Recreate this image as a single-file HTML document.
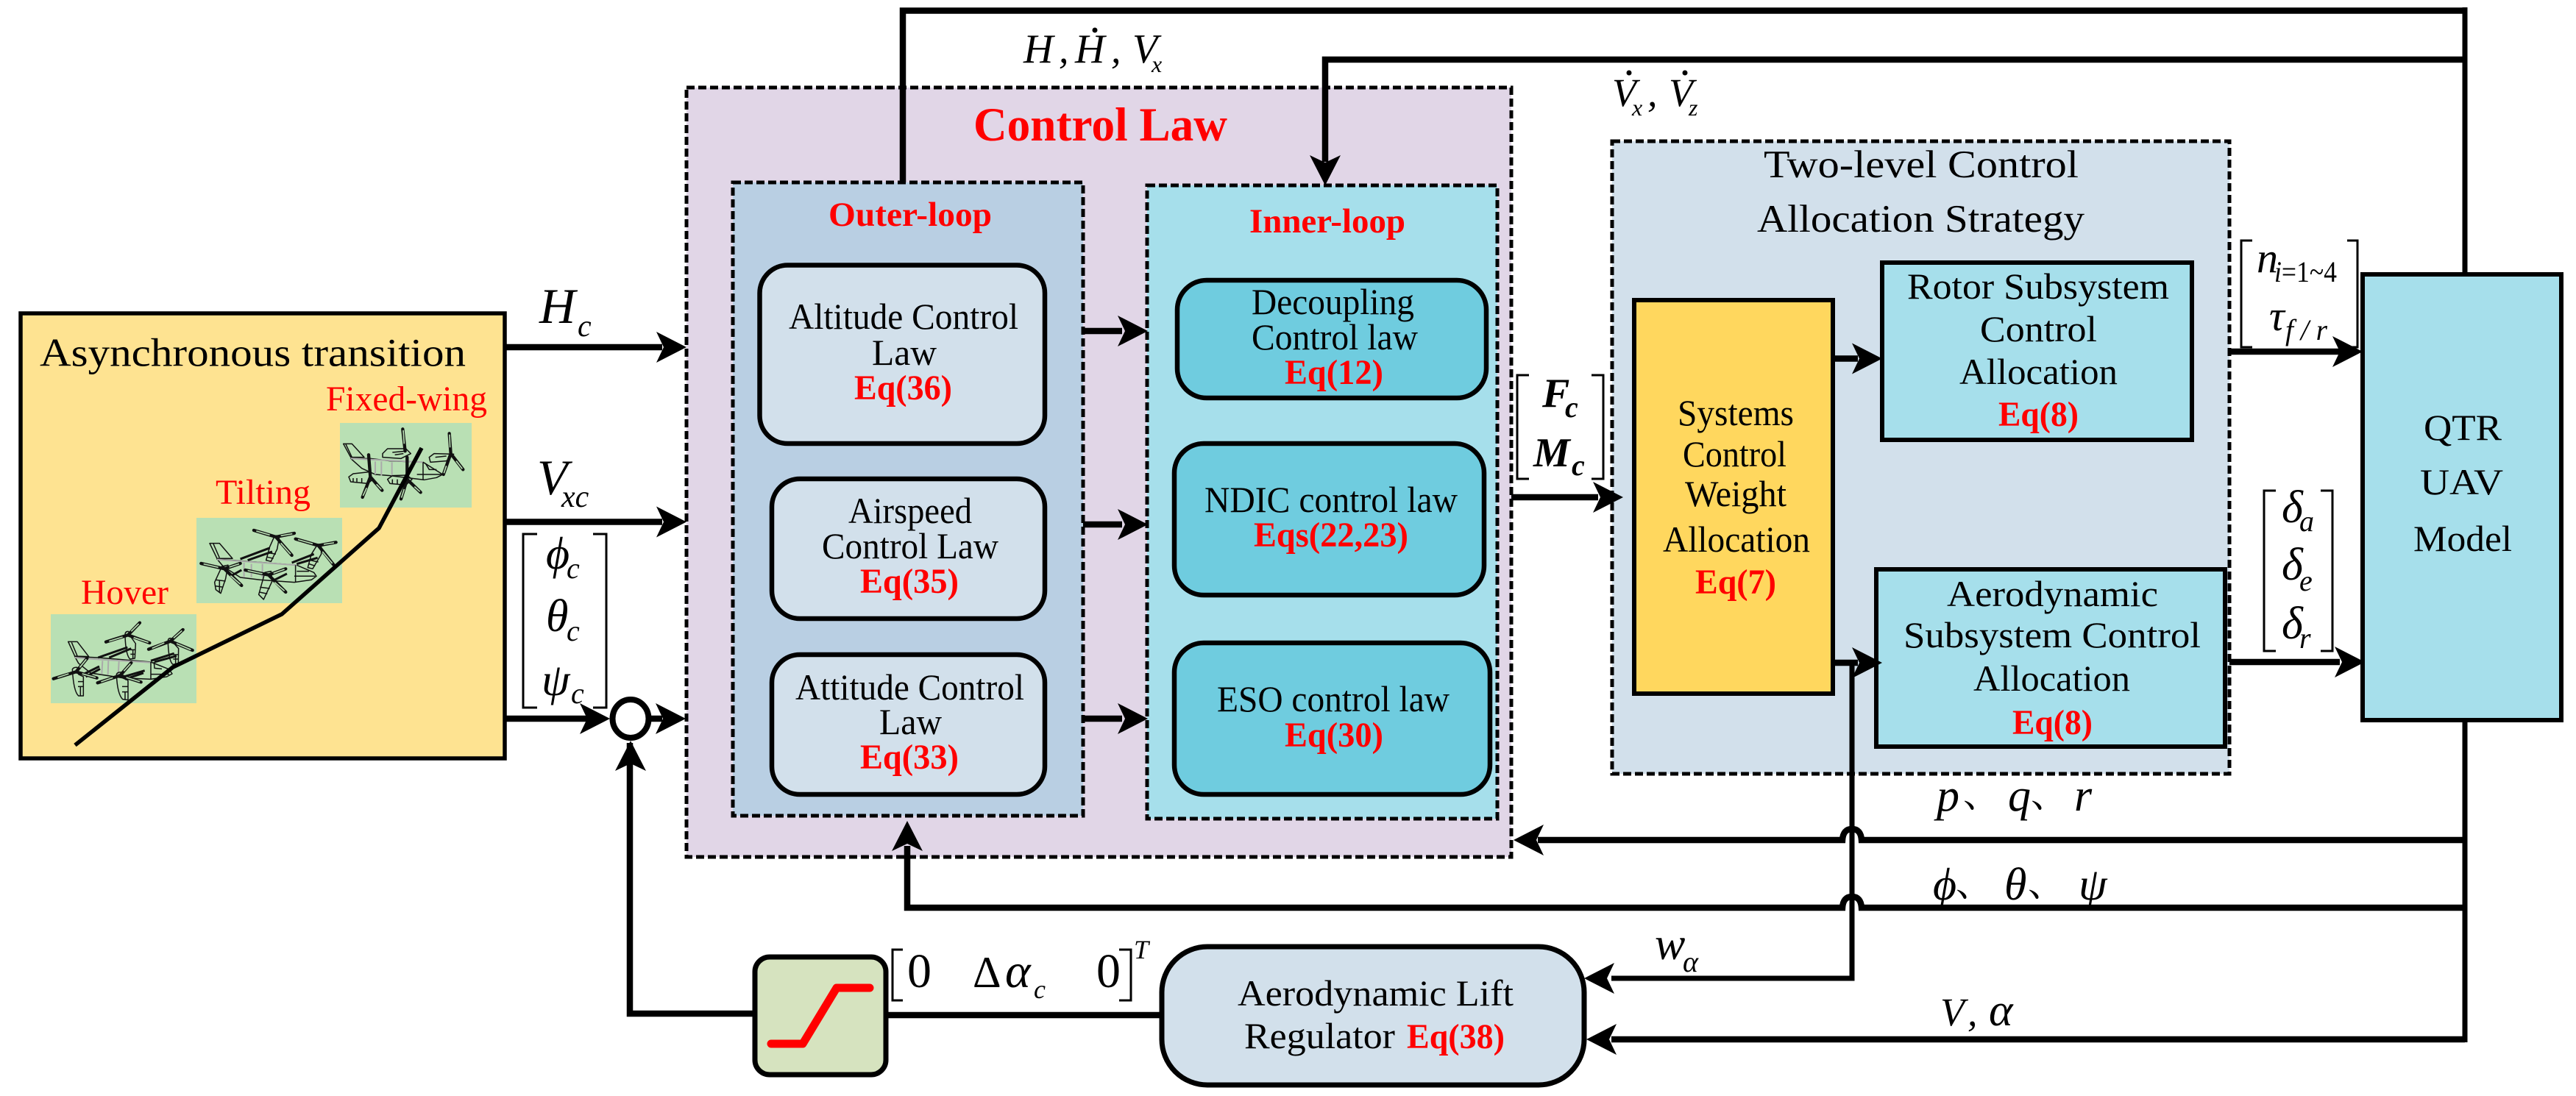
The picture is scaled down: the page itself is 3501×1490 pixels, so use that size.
<!DOCTYPE html>
<html><head><meta charset="utf-8"><title>Control diagram</title>
<style>
html,body{margin:0;padding:0;background:#fff;width:3501px;height:1490px;overflow:hidden}
svg{display:block}
text{font-family:"Liberation Serif","Noto Serif CJK SC",serif;fill:#000}
.r{fill:#f00;font-weight:bold}
.rn{fill:#f00}
.i{font-style:italic}
.b{font-size:50px}
.r.b{font-size:48px}
.m{font-style:italic;font-size:62px}
.s{font-style:italic;font-size:40px}
.d{fill:none;stroke:#000;stroke-width:5;stroke-dasharray:11 5}
.ln{stroke:#000;fill:none;stroke-width:8.5}
.br{stroke:#000;fill:none;stroke-width:3}
.air path{fill:none;stroke:#111;stroke-width:4.5;stroke-linejoin:round}
.air .g{stroke:#aaa;stroke-width:6}
.air .w{stroke-width:9}
.air .bl{stroke-width:13;stroke-linecap:round}
.air .bi{stroke:#b9e0b4;stroke-width:5;stroke-linecap:butt}
</style></head><body>
<svg width="3501" height="1490" viewBox="0 0 3501 1490" xmlns="http://www.w3.org/2000/svg">
<defs><polygon id="a" points="0,0 -41,-21 -31,0 -41,21" fill="#000"/></defs>

<!-- Asynchronous box -->
<rect x="28" y="426" width="658" height="605" fill="#fee391" stroke="#000" stroke-width="5.5"/>
<text x="54" y="497.5" font-size="54" textLength="579" lengthAdjust="spacingAndGlyphs">Asynchronous transition</text>
<text class="rn" x="443" y="558" font-size="48" textLength="219" lengthAdjust="spacingAndGlyphs">Fixed-wing</text>
<text class="rn" x="293" y="685" font-size="48" textLength="129" lengthAdjust="spacingAndGlyphs">Tilting</text>
<text class="rn" x="110" y="821" font-size="48" textLength="119" lengthAdjust="spacingAndGlyphs">Hover</text>
<rect x="69" y="835" width="198" height="121" fill="#b9e0b4"/>
<rect x="267" y="704" width="198" height="116" fill="#b9e0b4"/>
<rect x="462" y="575" width="179" height="115" fill="#b9e0b4"/>

<!-- hover -->
<g class="air" transform="translate(50,820) scale(.3333)">
 <path d="M128,157L165,157L212,218L155,216ZM142,160L165,215"/>
 <path d="M155,218L250,222L465,240L540,270L552,288L530,300L465,310L350,305L220,285L170,245Z"/>
 <path class="g" d="M155,222L260,230L465,242M268,235L265,290M292,235L290,292M335,238L332,292"/>
 <path d="M465,240V310M478,240L480,265L510,268M465,290H540"/>
 <path class="w" d="M250,222L370,180M295,222L385,185M465,235L560,205M480,240L570,215M190,290L255,258M200,300L258,268M355,300L440,275M360,310L435,285"/>
 <path d="M360,130Q360,115 372,115Q382,120 382,135L403,165L400,225L380,228Q362,210 360,130ZM382,190H403M382,208H403M392,190V225"/>
 <path d="M535,155Q535,143 545,143Q555,145 556,160L578,185L577,245L555,250Q537,235 535,155ZM556,210H578M556,228H578M566,210V248"/>
 <path d="M145,270Q150,260 165,262L170,290L190,300L190,378L170,378Q150,360 145,270ZM168,320H190M168,340H190M178,340V378"/>
 <path d="M325,290Q330,280 345,282L350,305L372,315L372,395L350,392Q328,370 325,290ZM348,340H372M348,362H372M360,362V394"/>
 <path class="bl" d="M372,130L420,80M372,130L282,158M372,130L460,162M545,155L596,108M545,155L456,188M545,155L635,192M160,280L205,225M160,280L68,308M160,280L245,305M340,295L385,243M340,295L248,325M340,295L425,322"/>
 <path class="bi" d="M385,115L416,84M350,138L295,155M395,140L455,160M558,142L592,112M520,162L470,184M570,165L628,190M175,262L202,229M130,288L85,303M185,288L240,303M355,277L382,247M310,304L262,321M365,303L420,320"/>
</g>
<!-- tilting -->
<g class="air" transform="translate(20,400) scale(.3333)">
 <path d="M795,1016L835,1016L888,1078L825,1078ZM810,1018L835,1075"/>
 <path d="M825,1080L1150,1105L1220,1135L1230,1150L1210,1165L1140,1175L1000,1165L920,1155L850,1110Z"/>
 <path class="g" d="M825,1082L1150,1105M935,1095V1155M965,1100V1155M1010,1100V1155"/>
 <path d="M1145,1105V1175M1150,1130H1200M1140,1150H1225"/>
 <path class="w" d="M920,1080L1040,1035M950,1085L1050,1050M1130,1095L1220,1060M1150,1100L1235,1075M880,1150L925,1125M1060,1165L1110,1140"/>
 <path d="M1060,985L1080,985L1070,1040L1045,1090L1025,1085L1040,1030ZM1035,1055L1065,1060M1030,1072L1055,1078"/>
 <path d="M1235,1020L1250,1020L1250,1060L1215,1120L1195,1115L1210,1060ZM1205,1085L1238,1092M1200,1100L1225,1108"/>
 <path d="M845,1110L870,1105L860,1160L840,1220L820,1205L815,1175ZM818,1165L860,1170M818,1190L850,1195M835,1165V1215"/>
 <path d="M1020,1135L1045,1130L1050,1170L1015,1245L995,1225ZM1000,1195L1040,1200M998,1215L1030,1222"/>
 <path class="bl" d="M1065,990L975,963M1065,990L1140,975M1065,990L1130,1065M1238,1025L1145,998M1238,1025L1310,1012M1238,1025L1300,1103M855,1120L760,1098M855,1120L920,1098M855,1120L925,1188M1035,1145L940,1125M1035,1145L1105,1120M1035,1145L1105,1215"/>
 <path class="bi" d="M1040,982L985,966M1085,985L1132,977M1085,1015L1125,1060M1215,1018L1155,1001M1260,1020L1302,1014M1255,1050L1295,1098M830,1114L770,1100M875,1113L915,1100M880,1148L920,1183M1010,1140L950,1127M1055,1138L1100,1122M1060,1175L1100,1210"/>
</g>
<!-- fixed-wing -->
<g class="air" transform="translate(420,520) scale(.3333)">
 <path d="M140,250L175,250L225,305L170,305ZM150,252L175,305"/>
 <path d="M170,310L250,310L330,320L465,325L545,375L520,388L470,397L330,380L270,375L215,350Z"/>
 <path class="g" d="M170,310L465,325M270,322V375M295,322V380M338,325V380"/>
 <path d="M465,325V395M475,330L490,355L520,355M440,375H545"/>
 <path d="M300,290L320,270L395,270L415,290L375,310L300,305ZM340,285L390,280M350,295L385,290"/>
 <path d="M490,305L510,290L590,292L560,320L495,325ZM515,305L560,300"/>
 <path d="M162,385L180,372L245,365L260,395L240,412L170,405ZM180,390V405M195,390V408M215,390V410"/>
 <path d="M320,395L340,380L400,378L420,395L395,418L330,412ZM340,395V412M360,395V414"/>
 <path class="bl" d="M392,280L382,190M578,290L572,208M578,290L628,355M578,290L548,375M250,385L243,295M250,385L218,468M250,385L298,440M400,395L400,305M400,395L375,475M400,395L455,448"/>
 <path class="bi" d="M388,250L384,195M575,265L573,212M600,320L625,352M560,340L550,370M235,430L220,462M275,415L295,436M388,435L377,470M430,425L452,445"/>
</g>
<polyline points="102,1013 235,907 383,835 515,718 573,609" fill="none" stroke="#000" stroke-width="5.5"/>

<!-- Control law -->
<rect x="933" y="119" width="1121" height="1046" fill="#e1d6e7"/>
<rect class="d" x="933" y="119" width="1121" height="1046"/>
<rect x="996" y="248" width="476" height="861" fill="#b9cfe3"/>
<rect class="d" x="996" y="248" width="476" height="861"/>
<rect x="1559" y="252" width="476" height="861" fill="#a6dfeb"/>
<rect class="d" x="1559" y="252" width="476" height="861"/>

<text class="r" x="1323" y="191" font-size="65" textLength="345" lengthAdjust="spacingAndGlyphs">Control Law</text>
<text class="r" x="1126" y="307" font-size="47" textLength="222" lengthAdjust="spacingAndGlyphs">Outer-loop</text>
<text class="r" x="1698" y="316" font-size="47" textLength="212" lengthAdjust="spacingAndGlyphs">Inner-loop</text>

<g fill="#d2e0eb" stroke="#000" stroke-width="6.5">
<rect x="1032.5" y="360.5" width="387.5" height="242.5" rx="38"/>
<rect x="1049" y="651" width="371" height="190" rx="38"/>
<rect x="1049" y="890" width="371" height="190" rx="38"/>
</g>
<g fill="#6fccdf" stroke="#000" stroke-width="6.5">
<rect x="1600" y="381" width="420" height="160" rx="40"/>
<rect x="1596" y="603" width="421" height="206" rx="40"/>
<rect x="1596" y="874" width="429" height="206" rx="40"/>
</g>

<text class="b" x="1072" y="447" textLength="312" lengthAdjust="spacingAndGlyphs">Altitude Control</text>
<text class="b" x="1185" y="496" textLength="88" lengthAdjust="spacingAndGlyphs">Law</text>
<text class="r b" x="1161" y="543" textLength="133" lengthAdjust="spacingAndGlyphs">Eq(36)</text>
<text class="b" x="1153" y="711" textLength="168" lengthAdjust="spacingAndGlyphs">Airspeed</text>
<text class="b" x="1117" y="759" textLength="240" lengthAdjust="spacingAndGlyphs">Control Law</text>
<text class="r b" x="1169" y="806" textLength="134" lengthAdjust="spacingAndGlyphs">Eq(35)</text>
<text class="b" x="1081" y="951" textLength="311" lengthAdjust="spacingAndGlyphs">Attitude Control</text>
<text class="b" x="1195" y="998" textLength="85" lengthAdjust="spacingAndGlyphs">Law</text>
<text class="r b" x="1169" y="1045" textLength="134" lengthAdjust="spacingAndGlyphs">Eq(33)</text>

<text class="b" x="1701" y="427" textLength="221" lengthAdjust="spacingAndGlyphs">Decoupling</text>
<text class="b" x="1701" y="475" textLength="226" lengthAdjust="spacingAndGlyphs">Control law</text>
<text class="r b" x="1746" y="522" textLength="134" lengthAdjust="spacingAndGlyphs">Eq(12)</text>
<text class="b" x="1637" y="696" textLength="344" lengthAdjust="spacingAndGlyphs">NDIC control law</text>
<text class="r b" x="1704" y="743" textLength="210" lengthAdjust="spacingAndGlyphs">Eqs(22,23)</text>
<text class="b" x="1654" y="967" textLength="316" lengthAdjust="spacingAndGlyphs">ESO control law</text>
<text class="r b" x="1746" y="1015" textLength="134" lengthAdjust="spacingAndGlyphs">Eq(30)</text>

<!-- Two-level -->
<rect x="2191" y="192" width="839" height="860" fill="#d2e0eb"/>
<rect class="d" x="2191" y="192" width="839" height="860"/>
<text x="2397" y="241" font-size="53" textLength="428" lengthAdjust="spacingAndGlyphs">Two-level Control</text>
<text x="2388" y="315" font-size="53" textLength="445" lengthAdjust="spacingAndGlyphs">Allocation Strategy</text>
<rect x="2558" y="357" width="421" height="241" fill="#a6dfeb" stroke="#000" stroke-width="6"/>
<rect x="2221" y="408" width="270" height="535" fill="#ffd75e" stroke="#000" stroke-width="6"/>
<rect x="2550" y="774" width="474" height="241" fill="#a6dfeb" stroke="#000" stroke-width="6"/>
<rect x="3211" y="373" width="270" height="606" fill="#a6dfeb" stroke="#000" stroke-width="6"/>

<text class="b" x="2592" y="406" textLength="356" lengthAdjust="spacingAndGlyphs">Rotor Subsystem</text>
<text class="b" x="2691" y="464" textLength="159" lengthAdjust="spacingAndGlyphs">Control</text>
<text class="b" x="2663" y="522" textLength="215" lengthAdjust="spacingAndGlyphs">Allocation</text>
<text class="r b" x="2716" y="579" textLength="109" lengthAdjust="spacingAndGlyphs">Eq(8)</text>
<text class="b" x="2280" y="578" textLength="158" lengthAdjust="spacingAndGlyphs">Systems</text>
<text class="b" x="2287" y="634" textLength="141" lengthAdjust="spacingAndGlyphs">Control</text>
<text class="b" x="2290" y="688" textLength="138" lengthAdjust="spacingAndGlyphs">Weight</text>
<text class="b" x="2260" y="750" textLength="200" lengthAdjust="spacingAndGlyphs">Allocation</text>
<text class="r b" x="2304" y="807" textLength="110" lengthAdjust="spacingAndGlyphs">Eq(7)</text>
<text class="b" x="2646" y="824" textLength="287" lengthAdjust="spacingAndGlyphs">Aerodynamic</text>
<text class="b" x="2587" y="880" textLength="404" lengthAdjust="spacingAndGlyphs">Subsystem Control</text>
<text class="b" x="2682" y="939" textLength="213" lengthAdjust="spacingAndGlyphs">Allocation</text>
<text class="r b" x="2735" y="998" textLength="109" lengthAdjust="spacingAndGlyphs">Eq(8)</text>
<text class="b" x="3294" y="598" textLength="106" lengthAdjust="spacingAndGlyphs">QTR</text>
<text class="b" x="3289" y="672" textLength="113" lengthAdjust="spacingAndGlyphs">UAV</text>
<text class="b" x="3280" y="749" textLength="134" lengthAdjust="spacingAndGlyphs">Model</text>

<!-- Regulator & saturation -->
<rect x="1579" y="1287" width="574" height="188" rx="62" fill="#d2e0eb" stroke="#000" stroke-width="7"/>
<text class="b" x="1682" y="1367" textLength="375" lengthAdjust="spacingAndGlyphs">Aerodynamic Lift</text>
<text class="b" x="1691" y="1425" textLength="205" lengthAdjust="spacingAndGlyphs">Regulator</text>
<text class="r b" x="1912" y="1425" textLength="133" lengthAdjust="spacingAndGlyphs">Eq(38)</text>
<rect x="1026" y="1301" width="178" height="160" rx="20" fill="#d6e3bf" stroke="#000" stroke-width="7"/>
<polyline points="1048,1419 1091,1419 1137,1343 1182,1343" fill="none" stroke="#f00" stroke-width="11" stroke-linejoin="round" stroke-linecap="round"/>

<!-- Connectors -->
<g class="ln">
<path d="M686,472H900M686,709.5H900M686,977H805"/>
<path d="M880,977H900"/>
<path d="M856,1010V1378H1026" />
<path d="M1204,1380H1579"/>
<path d="M1227,248V14.5H3350"/>
<path d="M3350,10V373" stroke-width="7"/>
<path d="M3350,81H1801V220"/>
<path d="M1472,450H1525M1472,713H1525M1472,977H1525"/>
<path d="M2054,676H2172M2491,487.5H2525M2491,901H2525"/>
<path d="M3030,478H3180M3030,900H3180"/>
<path d="M3350,1142H2530Q2529,1127 2517,1127Q2505,1127 2504,1142H2090"/>
<path d="M3350,1234H2530Q2529,1219 2517,1219Q2505,1219 2504,1234H1233V1150"/>
<path d="M3350,1413H2190"/>
<path d="M3350,979V1417" stroke-width="7"/>
<path d="M2517,901V1330H2190" stroke-width="7"/>
</g>
<ellipse cx="857" cy="977" rx="24.5" ry="26" fill="#fff" stroke="#000" stroke-width="8"/>

<use href="#a" transform="translate(933,472)"/>
<use href="#a" transform="translate(933,709.5)"/>
<use href="#a" transform="translate(829,977)"/>
<use href="#a" transform="translate(932,977)"/>
<use href="#a" transform="translate(857,1007) rotate(-90)"/>
<use href="#a" transform="translate(1560,450)"/>
<use href="#a" transform="translate(1560,713)"/>
<use href="#a" transform="translate(1560,977)"/>
<use href="#a" transform="translate(1801,252) rotate(90)"/>
<use href="#a" transform="translate(2206,676)"/>
<use href="#a" transform="translate(2558,487.5)"/>
<use href="#a" transform="translate(2558,901)"/>
<use href="#a" transform="translate(3211,478)"/>
<use href="#a" transform="translate(3214,900)"/>
<use href="#a" transform="translate(2057,1142) rotate(180)"/>
<use href="#a" transform="translate(1233,1116) rotate(-90)"/>
<use href="#a" transform="translate(2153,1330) rotate(180)"/>
<use href="#a" transform="translate(2156,1413) rotate(180)"/>

<!-- Brackets -->
<g class="br">
<path d="M730,726H711V962H730M806,726H824V962H806"/>
<path d="M2078,510H2062V651H2078M2163,510H2179V651H2163"/>
<path d="M3061,327H3046V472H3061M3190,327H3204V472H3190"/>
<path d="M3093,667H3077V885H3093M3154,667H3170V885H3154"/>
<path d="M1227,1291H1213V1360H1227M1521,1291H1537V1360H1521"/>
</g>

<!-- Math labels -->
<text class="i" x="733" y="439" font-size="68">H</text><text class="i" x="785" y="457" font-size="42">c</text>
<text class="i" x="730" y="672" font-size="68">V</text><text class="i" x="763" y="689" font-size="42">xc</text>
<text class="m" x="742" y="773">ϕ</text><text class="s" x="770" y="786">c</text>
<text class="m" x="742" y="858">θ</text><text class="s" x="770" y="871">c</text>
<text class="m" x="736" y="945">ψ</text><text class="s" x="776" y="956">c</text>

<text class="i" x="1391" y="85" font-size="56">H</text><text class="i" x="1439" y="85" font-size="54">,</text>
<text class="i" x="1461" y="85" font-size="56">H</text><circle cx="1488" cy="41" r="3.5"/>
<text class="i" x="1510" y="85" font-size="54">,</text><text class="i" x="1539" y="85" font-size="56">V</text>
<text class="i" x="1565" y="98" font-size="32">x</text>

<text class="i" x="2191" y="144" font-size="54">V</text><circle cx="2214" cy="99" r="3.5"/>
<text class="i" x="2218" y="157" font-size="32">x</text><text class="i" x="2239" y="144" font-size="54">,</text>
<text class="i" x="2268" y="144" font-size="54">V</text><circle cx="2290" cy="99" r="3.5"/>
<text class="i" x="2295" y="157" font-size="32">z</text>

<text x="2096" y="553.6" class="i" font-weight="bold" font-size="56">F</text><text class="s" x="2127" y="567" font-weight="bold">c</text>
<text x="2084" y="634" class="i" font-weight="bold" font-size="56">M</text><text class="s" x="2136" y="646" font-weight="bold">c</text>

<text class="i" x="3067" y="370" font-size="58">n</text><text x="3091" y="383" font-size="40" textLength="85" lengthAdjust="spacingAndGlyphs"><tspan class="i">i</tspan>=1~4</text>
<text class="i" x="3084" y="449" font-size="58">τ</text><text class="i" x="3106" y="462" font-size="40" textLength="57" lengthAdjust="spacingAndGlyphs">f / r</text>

<text class="m" x="3101" y="710">δ</text><text class="s" x="3125" y="722">a</text>
<text class="m" x="3101" y="788">δ</text><text class="s" x="3125" y="803">e</text>
<text class="m" x="3101" y="868">δ</text><text class="s" x="3125" y="881">r</text>

<text class="m" x="2632" y="1102">p</text><text x="2668" y="1097" font-size="50">、</text>
<text class="m" x="2729" y="1102">q</text><text x="2760" y="1097" font-size="50">、</text>
<text class="m" x="2819" y="1102">r</text>
<text class="m" x="2627" y="1223">ϕ</text><text x="2658" y="1218" font-size="50">、</text>
<text class="m" x="2724" y="1223">θ</text><text x="2756" y="1218" font-size="50">、</text>
<text class="m" x="2825" y="1223">ψ</text>
<text class="m" x="2249" y="1304">w</text><text class="s" x="2287" y="1321">α</text>
<text class="i" x="2637" y="1394" font-size="54">V</text><text class="i" x="2674" y="1394" font-size="54">,</text><text class="m" x="2703" y="1394">α</text>

<text x="1233" y="1342" font-size="66">0</text>
<text x="1322" y="1342" font-size="60">Δ</text><text class="i" x="1366" y="1342" font-size="66">α</text><text class="i" x="1405" y="1357" font-size="36">c</text>
<text x="1490" y="1342" font-size="66">0</text>
<text class="i" x="1541" y="1303" font-size="36">T</text>
</svg>
</body></html>
